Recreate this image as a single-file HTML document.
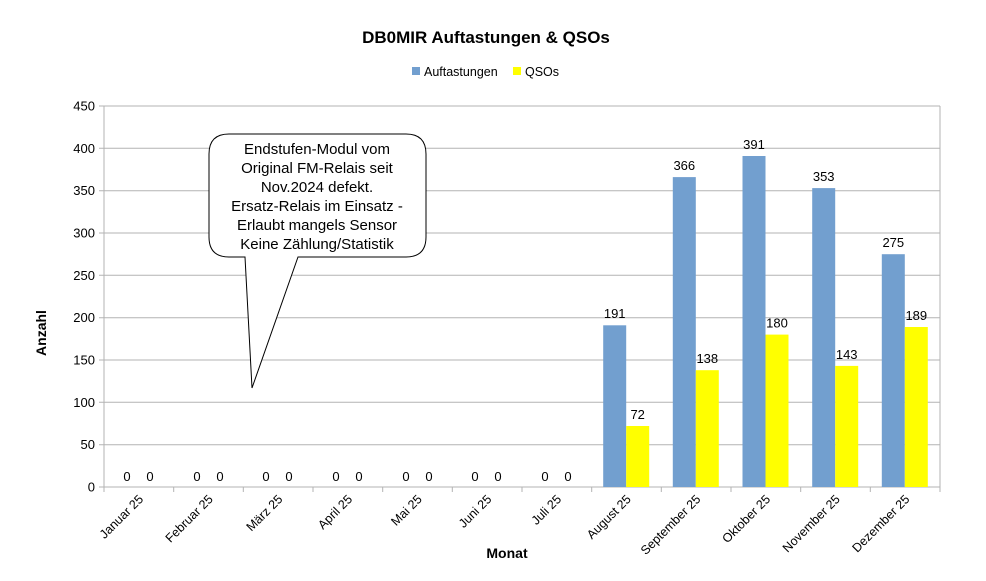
<!DOCTYPE html>
<html><head><meta charset="utf-8"><style>html,body{margin:0;padding:0;background:#fff}svg{display:block}</style></head><body>
<svg width="986" height="581" viewBox="0 0 986 581" xmlns="http://www.w3.org/2000/svg" font-family="Liberation Sans, sans-serif">
<rect width="986" height="581" fill="#fff"/>
<text x="486" y="43" text-anchor="middle" font-size="17" font-weight="bold">DB0MIR Auftastungen &amp; QSOs</text>
<rect x="412" y="67" width="8" height="8" fill="#729fcf"/><text x="424" y="76" font-size="12.5">Auftastungen</text>
<rect x="513" y="67" width="8" height="8" fill="#ffff00"/><text x="525" y="76" font-size="12.5">QSOs</text>
<g stroke="#b3b3b3" stroke-width="1">
<line x1="99" y1="106" x2="940" y2="106"/><line x1="99" y1="148.3" x2="940" y2="148.3"/><line x1="99" y1="190.7" x2="940" y2="190.7"/><line x1="99" y1="233" x2="940" y2="233"/><line x1="99" y1="275.3" x2="940" y2="275.3"/><line x1="99" y1="317.7" x2="940" y2="317.7"/><line x1="99" y1="360" x2="940" y2="360"/><line x1="99" y1="402.3" x2="940" y2="402.3"/><line x1="99" y1="444.7" x2="940" y2="444.7"/><line x1="99" y1="487" x2="940" y2="487"/>
<line x1="104" y1="106" x2="104" y2="492"/><line x1="940" y1="106" x2="940" y2="492"/>
<line x1="173.7" y1="487" x2="173.7" y2="492"/><line x1="243.3" y1="487" x2="243.3" y2="492"/><line x1="313" y1="487" x2="313" y2="492"/><line x1="382.7" y1="487" x2="382.7" y2="492"/><line x1="452.3" y1="487" x2="452.3" y2="492"/><line x1="522" y1="487" x2="522" y2="492"/><line x1="591.7" y1="487" x2="591.7" y2="492"/><line x1="661.3" y1="487" x2="661.3" y2="492"/><line x1="731" y1="487" x2="731" y2="492"/><line x1="800.7" y1="487" x2="800.7" y2="492"/><line x1="870.3" y1="487" x2="870.3" y2="492"/>
</g>
<g font-size="13" text-anchor="end">
<text x="95" y="110.5">450</text><text x="95" y="152.8">400</text><text x="95" y="195.2">350</text><text x="95" y="237.5">300</text><text x="95" y="279.8">250</text><text x="95" y="322.2">200</text><text x="95" y="364.5">150</text><text x="95" y="406.8">100</text><text x="95" y="449.2">50</text><text x="95" y="491.5">0</text>
</g>
<g fill="#729fcf">
<rect x="603.2" y="325.3" width="23" height="161.7"/><rect x="672.8" y="177.1" width="23" height="309.9"/><rect x="742.5" y="156" width="23" height="331"/><rect x="812.2" y="188.1" width="23" height="298.9"/><rect x="881.8" y="254.2" width="23" height="232.8"/>
</g>
<g fill="#ffff00">
<rect x="626.2" y="426" width="23" height="61"/><rect x="695.8" y="370.2" width="23" height="116.8"/><rect x="765.5" y="334.6" width="23" height="152.4"/><rect x="835.2" y="365.9" width="23" height="121.1"/><rect x="904.8" y="327" width="23" height="160"/>
</g>
<g font-size="13" text-anchor="middle">
<text x="127" y="481">0</text><text x="150" y="481">0</text>
<text x="197" y="481">0</text><text x="220" y="481">0</text>
<text x="266" y="481">0</text><text x="289" y="481">0</text>
<text x="336" y="481">0</text><text x="359" y="481">0</text>
<text x="406" y="481">0</text><text x="429" y="481">0</text>
<text x="475" y="481">0</text><text x="498" y="481">0</text>
<text x="545" y="481">0</text><text x="568" y="481">0</text>
<text x="614.7" y="318">191</text><text x="637.7" y="419">72</text>
<text x="684.3" y="170">366</text><text x="707.3" y="363">138</text>
<text x="754" y="149">391</text><text x="777" y="327.6">180</text>
<text x="823.7" y="181">353</text><text x="846.7" y="359">143</text>
<text x="893.3" y="247">275</text><text x="916.3" y="320">189</text>
</g>
<g font-size="12.5" text-anchor="end">
<text transform="translate(144,500) rotate(-45)">Januar 25</text>
<text transform="translate(213.7,500) rotate(-45)">Februar 25</text>
<text transform="translate(283.3,500) rotate(-45)">März 25</text>
<text transform="translate(353,500) rotate(-45)">April 25</text>
<text transform="translate(422.7,500) rotate(-45)">Mai 25</text>
<text transform="translate(492.3,500) rotate(-45)">Juni 25</text>
<text transform="translate(562,500) rotate(-45)">Juli 25</text>
<text transform="translate(631.7,500) rotate(-45)">August 25</text>
<text transform="translate(701.3,500) rotate(-45)">September 25</text>
<text transform="translate(771,500) rotate(-45)">Oktober 25</text>
<text transform="translate(840.7,500) rotate(-45)">November 25</text>
<text transform="translate(910.3,500) rotate(-45)">Dezember 25</text>
</g>
<text x="507" y="558" text-anchor="middle" font-size="14" font-weight="bold">Monat</text>
<text transform="translate(46,333) rotate(-90)" text-anchor="middle" font-size="14" font-weight="bold">Anzahl</text>
<path d="M229,134 H406 Q426,134 426,154 V237 Q426,257 406,257 H298 L252,388 L245,257 H229 Q209,257 209,237 V154 Q209,134 229,134 Z" fill="#fff" stroke="#000" stroke-width="1"/>
<g font-size="15" text-anchor="middle">
<text x="317" y="154">Endstufen-Modul vom</text>
<text x="317" y="173">Original FM-Relais seit</text>
<text x="317" y="192">Nov.2024 defekt.</text>
<text x="317" y="211">Ersatz-Relais im Einsatz -</text>
<text x="317" y="230">Erlaubt mangels Sensor</text>
<text x="317" y="249">Keine Zählung/Statistik</text>
</g>
</svg>
</body></html>
